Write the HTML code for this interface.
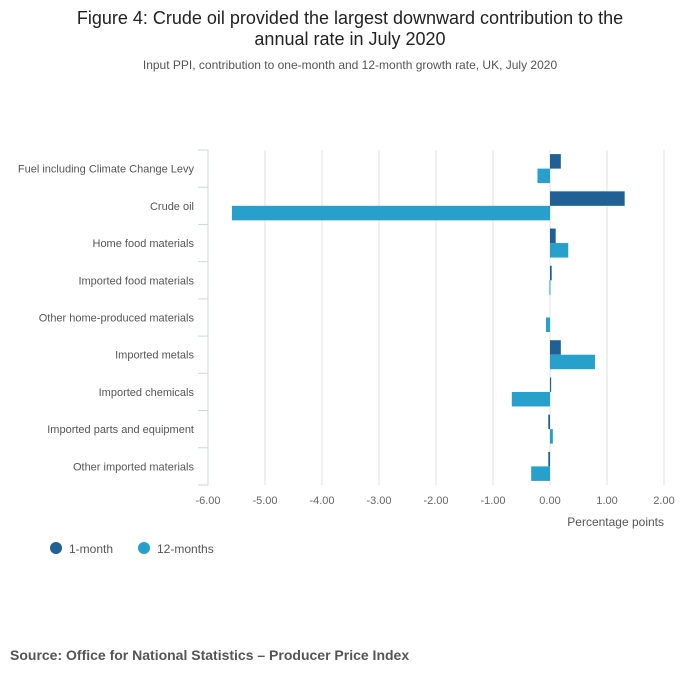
<!DOCTYPE html>
<html><head><meta charset="utf-8"><style>
body{margin:0;background:#fff;font-family:"Liberation Sans",sans-serif}
#wrap{position:relative;width:700px;height:682px;overflow:hidden}
</style></head><body>
<div id="wrap">
<svg id="chart" width="700" height="682">
<text x="350" y="24" text-anchor="middle" font-size="18" fill="#222">Figure 4: Crude oil provided the largest downward contribution to the</text>
<text x="350" y="45" text-anchor="middle" font-size="18" fill="#222">annual rate in July 2020</text>
<text x="350" y="69" text-anchor="middle" font-size="12" fill="#555">Input PPI, contribution to one-month and 12-month growth rate, UK, July 2020</text>
<text x="664" y="526" text-anchor="end" font-size="12" fill="#555">Percentage points</text>
<g>
<circle cx="56" cy="548" r="6" fill="#206095"/>
<text x="69" y="553" font-size="12" fill="#555">1-month</text>
<circle cx="144" cy="548" r="6" fill="#27a0cc"/>
<text x="157" y="553" font-size="12" fill="#555">12-months</text>
</g>
<text x="10" y="660" font-size="14" font-weight="bold" fill="#555">Source: Office for National Statistics – Producer Price Index</text>
<g id="plot"></g>
</svg></div>
<script>
const categories=["Fuel including Climate Change Levy","Crude oil","Home food materials","Imported food materials","Other home-produced materials","Imported metals","Imported chemicals","Imported parts and equipment","Other imported materials"];
const oneMonth=[0.19,1.31,0.1,0.03,0.0,0.19,0.02,-0.03,-0.03];
const twelveMonths=[-0.22,-5.58,0.32,-0.01,-0.07,0.79,-0.67,0.05,-0.33];
const xTicks=[-6,-5,-4,-3,-2,-1,0,1,2];
const xTickLabels=["-6.00","-5.00","-4.00","-3.00","-2.00","-1.00","0.00","1.00","2.00"];
const NS="http://www.w3.org/2000/svg";
const plotG=document.getElementById('plot');
const x0=208,x1=664,yTop=150,yBot=485;
const xs=v=>x0+(v-(-6))/(2-(-6))*(x1-x0);
const band=(yBot-yTop)/categories.length;
function mk(t,a){const e=document.createElementNS(NS,t);for(const k in a)e.setAttribute(k,a[k]);plotG.appendChild(e);return e;}
xTicks.forEach((t,i)=>{
 const l=mk('line',{x1:xs(t),x2:xs(t),y1:yTop,y2:yBot,stroke:'#e0e0e0','stroke-width':1});
 
 
 const tx=mk('text',{x:xs(t),y:yBot+19,'text-anchor':'middle','font-size':11,fill:'#666'});
 tx.textContent=xTickLabels[i];
 
 
});
const ax=mk('line',{x1:x0,x2:x0,y1:yTop,y2:yBot,stroke:'#ccd6eb'});


for(let i=0;i<=categories.length;i++){
 const tk=mk('line',{x1:x0-10,x2:x0,y1:yTop+i*band,y2:yTop+i*band,stroke:'#ccd6eb'});
 
 
}
const bh=14.5;
categories.forEach((c,i)=>{
 const yc=yTop+i*band+band/2;
 const t=mk('text',{x:194,y:yc+4,'text-anchor':'end','font-size':11,fill:'#555'});
 t.textContent=c;
 
 
 const v1=oneMonth[i],v2=twelveMonths[i];
 const b1=mk('rect',{x:Math.min(xs(0),xs(v1)),y:yc-bh,width:Math.max(Math.abs(xs(v1)-xs(0)),v1!==0?1:0),height:bh,fill:'#206095'});
 
 
 const b2=mk('rect',{x:Math.min(xs(0),xs(v2)),y:yc,width:Math.max(Math.abs(xs(v2)-xs(0)),v2!==0?1:0),height:bh,fill:'#27a0cc'});
 
 
});
</script>
</body></html>
